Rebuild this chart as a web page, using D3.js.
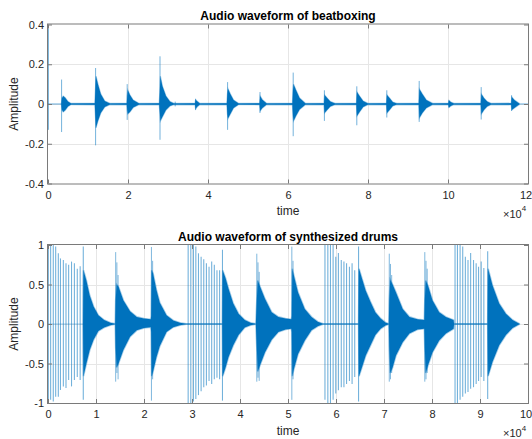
<!DOCTYPE html>
<html><head><meta charset="utf-8">
<script src="https://cdn.jsdelivr.net/npm/d3@7"></script>
<style>
html,body{margin:0;padding:0;background:#fff;}
svg{display:block;}
text{font-family:"Liberation Sans",Arial,Helvetica,sans-serif;}
</style></head>
<body>
<script>
// ---------- DATA (time in units of 1e4 samples) ----------
// Top: beatboxing
const beatXTicks = [0, 2, 4, 6, 8, 10, 12];
const beatYTicks = [-0.4, -0.2, 0, 0.2, 0.4];
const beatOnset   = [0.01, 0.34, 1.19, 1.98, 2.80, 3.18, 3.69, 4.49, 5.30, 6.13, 6.91, 7.72, 8.47, 9.28, 10.02, 10.83, 11.59];
const beatSpikeHi = [0.38, 0.123, 0.181, 0.10, 0.24, 0.012, 0.026, 0.11, 0.06, 0.158, 0.069, 0.089, 0.069, 0.116, 0.019, 0.085, 0.044];
const beatSpikeLo = [-0.13, -0.141, -0.208, -0.08, -0.18, -0.012, -0.03, -0.13, -0.045, -0.162, -0.085, -0.107, -0.068, -0.09, -0.018, -0.078, -0.035];
const beatEnvT  = [0.335,0.35,0.38,0.43,0.5,0.58,
  1.17,1.185,1.20,1.25,1.32,1.42,1.55,
  1.97,1.98,1.995,2.05,2.13,2.28,
  2.78,2.795,2.81,2.86,2.95,3.05,3.15,
  3.675,3.69,3.73,3.8,
  4.47,4.485,4.5,4.56,4.64,4.77,
  5.29,5.305,5.36,5.47,
  6.11,6.125,6.14,6.2,6.29,6.44,
  6.9,6.915,6.98,7.06,7.18,
  7.71,7.725,7.79,7.88,8.0,
  8.46,8.475,8.54,8.62,8.72,
  9.27,9.285,9.36,9.46,9.62,
  10.01,10.025,10.07,10.15,
  10.82,10.835,10.9,10.98,11.08,
  11.58,11.595,11.66,11.78];
const beatEnvHi = [0.004,0.03,0.04,0.032,0.012,0.003,
  0.004,0.07,0.14,0.10,0.05,0.015,0.003,
  0.004,0.04,0.07,0.045,0.02,0.003,
  0.004,0.06,0.14,0.09,0.04,0.012,0.003,
  0.004,0.022,0.014,0.003,
  0.004,0.05,0.077,0.05,0.02,0.003,
  0.004,0.04,0.022,0.003,
  0.004,0.07,0.10,0.07,0.03,0.003,
  0.004,0.045,0.03,0.012,0.003,
  0.004,0.06,0.04,0.015,0.003,
  0.004,0.045,0.03,0.01,0.003,
  0.004,0.075,0.05,0.02,0.003,
  0.004,0.018,0.01,0.003,
  0.004,0.05,0.03,0.012,0.003,
  0.004,0.035,0.02,0.003];
const beatEnvLo = [-0.004,-0.03,-0.04,-0.032,-0.012,-0.003,
  -0.004,-0.06,-0.12,-0.085,-0.045,-0.015,-0.003,
  -0.004,-0.03,-0.05,-0.04,-0.018,-0.003,
  -0.004,-0.04,-0.085,-0.065,-0.03,-0.01,-0.003,
  -0.004,-0.025,-0.014,-0.003,
  -0.004,-0.05,-0.073,-0.05,-0.02,-0.003,
  -0.004,-0.035,-0.02,-0.003,
  -0.004,-0.06,-0.085,-0.06,-0.028,-0.003,
  -0.004,-0.045,-0.03,-0.012,-0.003,
  -0.004,-0.06,-0.04,-0.015,-0.003,
  -0.004,-0.045,-0.03,-0.01,-0.003,
  -0.004,-0.07,-0.045,-0.02,-0.003,
  -0.004,-0.017,-0.01,-0.003,
  -0.004,-0.05,-0.03,-0.012,-0.003,
  -0.004,-0.03,-0.02,-0.003];

// Bottom: synthesized drums
const drumXTicks = [0,1,2,3,4,5,6,7,8,9,10];
const drumYTicks = [-1,-0.5,0,0.5,1];
const kickT  = [0.007,0.055,0.11,0.16,0.215,0.26,0.32,0.375,0.43,0.49,0.55,0.61,0.67,0.735,
  2.92,2.975,3.03,3.08,3.135,3.19,3.245,3.30,3.355,3.41,3.465,3.52,3.575,3.635,
  5.77,5.83,5.885,5.94,5.995,6.05,6.11,6.165,6.22,6.28,6.335,6.39,6.47,
  8.48,8.53,8.585,8.64,8.695,8.75,8.805,8.865,8.92,8.97,9.025,9.08,9.16];
const kickHi = [1.0,1.0,1.0,0.98,0.895,0.83,0.81,0.77,0.75,0.79,0.77,0.70,0.73,0.98,
  1.0,1.0,1.0,0.98,0.895,0.85,0.82,0.77,0.725,0.79,0.75,0.68,0.68,0.94,
  1.0,1.0,1.0,1.0,0.85,0.9,0.81,0.79,0.77,0.725,0.77,0.68,0.98,
  1.0,1.0,1.0,0.98,0.85,0.81,0.9,0.81,0.77,0.725,0.79,0.71,0.92];
const kickLo = [-0.96,-0.96,-0.98,-0.92,-0.92,-0.835,-0.79,-0.81,-0.71,-0.79,-0.71,-0.67,-0.71,-0.96,
  -1.0,-1.0,-0.98,-0.95,-0.9,-0.85,-0.8,-0.78,-0.72,-0.76,-0.7,-0.68,-0.7,-0.97,
  -0.96,-1.0,-1.0,-0.96,-0.88,-0.84,-0.8,-0.8,-0.76,-0.72,-0.76,-0.67,-0.98,
  -1.0,-1.0,-0.96,-0.92,-0.88,-0.86,-0.82,-0.8,-0.76,-0.72,-0.67,-0.72,-0.95];
const snareT  = [1.41,1.435,1.46, 2.155,2.18, 4.35,4.375,4.40, 5.08,5.105, 7.11,7.135,7.16, 7.85,7.875,7.90];
const snareHi = [0.91,0.78,0.62, 0.975,0.8, 0.89,0.78,0.66, 0.98,0.8, 0.89,0.76,0.62, 0.91,0.8,0.7];
const snareLo = [-0.73,-0.62,-0.7, -0.97,-0.7, -0.73,-0.68,-0.72, -0.96,-0.7, -0.73,-0.7,-0.62, -0.73,-0.7,-0.62];
const drumEnvT  = [0.73,0.74,0.80,0.87,0.95,1.05,1.17,1.3,1.4,
  1.41,1.43,1.47,1.57,1.71,1.85,2.0,2.14,
  2.15,2.16,2.19,2.26,2.33,2.47,2.61,2.75,2.88,
  3.632,3.64,3.7,3.76,3.86,3.97,4.1,4.22,4.33,
  4.35,4.37,4.42,4.52,4.66,4.8,4.95,5.07,
  5.08,5.09,5.12,5.21,5.35,5.49,5.62,5.73,
  6.47,6.48,6.54,6.62,6.72,6.82,6.93,7.03,7.1,
  7.11,7.13,7.18,7.25,7.39,7.53,7.7,7.84,
  7.85,7.87,7.92,8.01,8.15,8.29,8.45,8.46,
  9.16,9.17,9.26,9.4,9.54,9.68,9.82];
const drumEnvHi = [0,0.68,0.55,0.36,0.22,0.11,0.05,0.015,0.004,
  0.3,0.5,0.47,0.30,0.16,0.09,0.07,0.06,
  0.1,0.68,0.64,0.43,0.27,0.11,0.045,0.015,0.004,
  0.004,0.68,0.58,0.45,0.26,0.13,0.05,0.015,0.004,
  0.3,0.55,0.47,0.32,0.15,0.09,0.07,0.06,
  0.1,0.7,0.62,0.40,0.19,0.09,0.03,0.004,
  0.004,0.7,0.58,0.42,0.28,0.15,0.07,0.02,0.004,
  0.3,0.56,0.5,0.4,0.19,0.09,0.06,0.05,
  0.3,0.55,0.48,0.3,0.15,0.09,0.05,0.004,
  0.004,0.7,0.49,0.26,0.13,0.05,0.004];
const drumEnvLo = [0,-0.66,-0.5,-0.33,-0.2,-0.09,-0.045,-0.015,-0.004,
  -0.3,-0.55,-0.5,-0.33,-0.16,-0.08,-0.05,-0.04,
  -0.1,-0.66,-0.6,-0.42,-0.28,-0.1,-0.04,-0.015,-0.004,
  -0.004,-0.66,-0.55,-0.42,-0.27,-0.14,-0.045,-0.015,-0.004,
  -0.3,-0.6,-0.52,-0.36,-0.2,-0.1,-0.07,-0.06,
  -0.1,-0.66,-0.58,-0.38,-0.21,-0.08,-0.03,-0.004,
  -0.004,-0.66,-0.55,-0.4,-0.27,-0.14,-0.06,-0.02,-0.004,
  -0.3,-0.62,-0.55,-0.4,-0.23,-0.12,-0.07,-0.06,
  -0.3,-0.62,-0.52,-0.36,-0.21,-0.12,-0.06,-0.004,
  -0.004,-0.66,-0.48,-0.27,-0.14,-0.05,-0.004];

// ---------- DRAWING ----------
const W = 532, H = 439;
const BLUE = "#0072BD";
const svg = d3.select("body").append("svg").attr("width", W).attr("height", H);

function panel(cfg) {
  const x = d3.scaleLinear().domain(cfg.xd).range([48, 528]);
  const y = d3.scaleLinear().domain(cfg.yd).range([cfg.bottom, cfg.top]);
  const g = svg.append("g");
  // grid
  g.append("g").selectAll("line").data(cfg.xt.slice(1, -1)).join("line")
    .attr("x1", d => Math.round(x(d)) + 0.5).attr("x2", d => Math.round(x(d)) + 0.5)
    .attr("y1", cfg.top).attr("y2", cfg.bottom).attr("stroke", "#e6e6e6");
  g.append("g").selectAll("line").data(cfg.yt.slice(1, -1)).join("line")
    .attr("y1", d => Math.round(y(d)) + 0.5).attr("y2", d => Math.round(y(d)) + 0.5)
    .attr("x1", 48).attr("x2", 528).attr("stroke", "#e6e6e6");
  cfg.draw(g, x, y);
  // axes
  const fmt = d => String(d);
  const ac = "#7a7a7a";
  const styleAx = (sel) => {
    sel.select(".domain").remove();
    sel.selectAll(".tick line").attr("stroke", ac);
    sel.selectAll(".tick text").attr("fill", "#262626").style("font-size", "11px")
      .style("font-family", '"Liberation Sans", Arial, sans-serif');
  };
  const gb = g.append("g").attr("transform", `translate(0,${cfg.bottom})`)
    .call(d3.axisBottom(x).tickValues(cfg.xt).tickFormat(fmt).tickSizeInner(-4).tickSizeOuter(0).tickPadding(7.5))
    .call(styleAx);
  // keep the last (edge) tick label inside the window
  gb.selectAll(".tick text").filter((d, i, n) => i === n.length - 1).attr("x", -2.5);
  g.append("g").attr("transform", `translate(0,${cfg.top})`)
    .call(d3.axisTop(x).tickValues(cfg.xt).tickFormat("").tickSizeInner(-4).tickSizeOuter(0))
    .call(styleAx);
  g.append("g").attr("transform", `translate(48,0)`)
    .call(d3.axisLeft(y).tickValues(cfg.yt).tickFormat(fmt).tickSizeInner(-4).tickSizeOuter(0).tickPadding(4))
    .call(styleAx);
  g.append("g").attr("transform", `translate(528,0)`)
    .call(d3.axisRight(y).tickValues(cfg.yt).tickFormat("").tickSizeInner(-4).tickSizeOuter(0))
    .call(styleAx);
  g.append("rect").attr("x", 47.5).attr("y", cfg.top - 0.5).attr("width", 481).attr("height", cfg.bottom - cfg.top + 1)
    .attr("fill", "none").attr("stroke", ac).attr("stroke-width", 1);
  // labels
  g.append("text").attr("x", 288).attr("y", cfg.top - 4.5).attr("text-anchor", "middle")
    .style("font-size", "12px").style("font-weight", "bold").attr("fill", "#000").text(cfg.title);
  g.append("text").attr("x", 288).attr("y", cfg.bottom + 31.5).attr("text-anchor", "middle")
    .style("font-size", "12px").attr("fill", "#262626").text("time");
  const cy = (cfg.top + cfg.bottom) / 2;
  g.append("text").attr("transform", `translate(18,${cy}) rotate(-90)`).attr("text-anchor", "middle")
    .style("font-size", "12px").attr("fill", "#262626").text("Amplitude");
  const ex = g.append("text").attr("x", 503).attr("y", cfg.bottom + 34).style("font-size", "11px").attr("fill", "#262626");
  ex.append("tspan").text("×10");
  ex.append("tspan").attr("dy", -6.5).style("font-size", "8px").text("4");
}

const zip3 = (t, hi, lo) => t.map((v, i) => ({ t: v, hi: hi[i], lo: lo[i] }));

panel({
  xd: [0, 12], yd: [-0.4, 0.4], top: 24.5, bottom: 183.5,
  xt: beatXTicks, yt: beatYTicks, title: "Audio waveform of beatboxing",
  draw: (g, x, y) => {
    g.append("line").attr("x1", x(0)).attr("x2", x(12)).attr("y1", y(0)).attr("y2", y(0))
      .attr("stroke", BLUE).attr("stroke-opacity", 0.4).attr("stroke-width", 1.6);
    g.selectAll(".sp").data(zip3(beatOnset, beatSpikeHi, beatSpikeLo)).join("line")
      .attr("x1", d => x(d.t)).attr("x2", d => x(d.t)).attr("y1", d => y(d.hi)).attr("y2", d => y(d.lo))
      .attr("stroke", BLUE).attr("stroke-opacity", 0.55).attr("stroke-width", 1);
    const area = d3.area().x(d => x(d.t)).y0(d => y(d.lo)).y1(d => y(d.hi));
    g.append("path").datum(zip3(beatEnvT, beatEnvHi, beatEnvLo)).attr("d", area)
      .attr("fill", BLUE).attr("stroke", BLUE).attr("stroke-opacity", 0.35).attr("stroke-width", 1.2);
  }
});

panel({
  xd: [0, 10], yd: [-1, 1], top: 245, bottom: 403,
  xt: drumXTicks, yt: drumYTicks, title: "Audio waveform of synthesized drums",
  draw: (g, x, y) => {
    g.append("line").attr("x1", x(0)).attr("x2", x(9.82)).attr("y1", y(0)).attr("y2", y(0))
      .attr("stroke", BLUE).attr("stroke-opacity", 0.35).attr("stroke-width", 1.2);
    g.selectAll(".kk").data(zip3(kickT, kickHi, kickLo)).join("line")
      .attr("x1", d => x(d.t)).attr("x2", d => x(d.t)).attr("y1", d => y(d.hi)).attr("y2", d => y(d.lo))
      .attr("stroke", BLUE).attr("stroke-opacity", 0.55).attr("stroke-width", 1.1);
    g.selectAll(".sn").data(zip3(snareT, snareHi, snareLo)).join("line")
      .attr("x1", d => x(d.t)).attr("x2", d => x(d.t)).attr("y1", d => y(d.hi)).attr("y2", d => y(d.lo))
      .attr("stroke", BLUE).attr("stroke-opacity", 0.5).attr("stroke-width", 1);
    const area = d3.area().x(d => x(d.t)).y0(d => y(d.lo)).y1(d => y(d.hi));
    g.append("path").datum(zip3(drumEnvT, drumEnvHi, drumEnvLo)).attr("d", area)
      .attr("fill", BLUE).attr("stroke", BLUE).attr("stroke-opacity", 0.35).attr("stroke-width", 1.6);
  }
});
</script>
</body></html>
